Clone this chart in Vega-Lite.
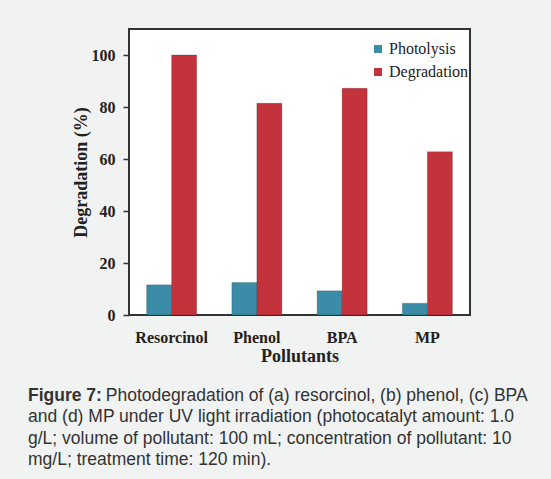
{
  "$schema": "https://vega.github.io/schema/vega-lite/v6.json",
  "autosize": {"type": "none"},
  "width": 341,
  "height": 286,
  "padding": {"left": 129, "top": 29, "right": 81, "bottom": 164},
  "background": "#f1f2f2",
  "data": {
    "values": [
      {"pollutant": "Resorcinol", "series": "Photolysis", "value": 11.6},
      {"pollutant": "Resorcinol", "series": "Degradation", "value": 100},
      {"pollutant": "Phenol", "series": "Photolysis", "value": 12.5},
      {"pollutant": "Phenol", "series": "Degradation", "value": 81.4},
      {"pollutant": "BPA", "series": "Photolysis", "value": 9.3},
      {"pollutant": "BPA", "series": "Degradation", "value": 87.2},
      {"pollutant": "MP", "series": "Photolysis", "value": 4.5},
      {"pollutant": "MP", "series": "Degradation", "value": 62.8}
    ]
  },
  "title": {
    "text": "Figure 7:",
    "subtitle": [
      "\u200b\u00a0\u00a0\u00a0\u00a0\u00a0\u00a0\u00a0\u00a0\u00a0\u00a0\u00a0\u00a0\u00a0\u00a0\u00a0\u00a0Photodegradation of (a) resorcinol, (b) phenol, (c) BPA",
      "and (d) MP under UV light irradiation (photocatalyt amount: 1.0",
      "g/L; volume of pollutant: 100 mL; concentration of pollutant: 10",
      "mg/L; treatment time: 120 min)."
    ],
    "orient": "bottom",
    "anchor": "start",
    "frame": "group",
    "dx": -101,
    "offset": 21.5,
    "font": "Liberation Sans",
    "fontSize": 17.5,
    "fontWeight": "bold",
    "color": "#333333",
    "subtitleFont": "Liberation Sans",
    "subtitleFontSize": 17.5,
    "subtitleFontWeight": "normal",
    "subtitleColor": "#333333",
    "subtitleLineHeight": 21.5,
    "subtitlePadding": -17.5
  },
  "mark": {"type": "bar", "stroke": "black", "strokeOpacity": 0.18, "strokeWidth": 1},
  "encoding": {
    "x": {
      "field": "pollutant",
      "type": "nominal",
      "sort": ["Resorcinol", "Phenol", "BPA", "MP"],
      "scale": {"paddingInner": 0.413, "paddingOuter": 0.2065},
      "axis": {
        "title": "Pollutants",
        "labelAngle": 0,
        "ticks": false,
        "tickSize": 0,
        "labelPadding": 14,
        "titlePadding": 2,
        "domain": false
      }
    },
    "xOffset": {
      "field": "series",
      "type": "nominal",
      "sort": ["Photolysis", "Degradation"]
    },
    "y": {
      "field": "value",
      "type": "quantitative",
      "scale": {"domain": [0, 110], "nice": false},
      "axis": {
        "title": "Degradation (%)",
        "values": [0, 20, 40, 60, 80, 100],
        "grid": false,
        "domain": false,
        "tickSize": 6,
        "tickColor": "#333333",
        "tickWidth": 1.5,
        "labelPadding": 8,
        "titlePadding": 1
      }
    },
    "color": {
      "field": "series",
      "type": "nominal",
      "scale": {"domain": ["Photolysis", "Degradation"], "range": ["#3b8ca6", "#c4323b"]},
      "legend": {
        "orient": "none",
        "legendX": 241,
        "legendY": 12,
        "title": null,
        "symbolType": "square",
        "symbolSize": 64,
        "symbolStrokeWidth": 0,
        "labelFont": "Liberation Serif",
        "labelFontSize": 16,
        "labelColor": "#222222",
        "labelOffset": 3,
        "rowPadding": 7,
        "padding": 0
      }
    }
  },
  "config": {
    "view": {"fill": "white", "stroke": "#333333", "strokeWidth": 2},
    "axis": {
      "labelFont": "Liberation Serif",
      "labelFontSize": 16,
      "labelFontWeight": "bold",
      "labelColor": "#222222",
      "titleFont": "Liberation Serif",
      "titleFontSize": 18,
      "titleFontWeight": "bold",
      "titleColor": "#222222"
    }
  }
}
